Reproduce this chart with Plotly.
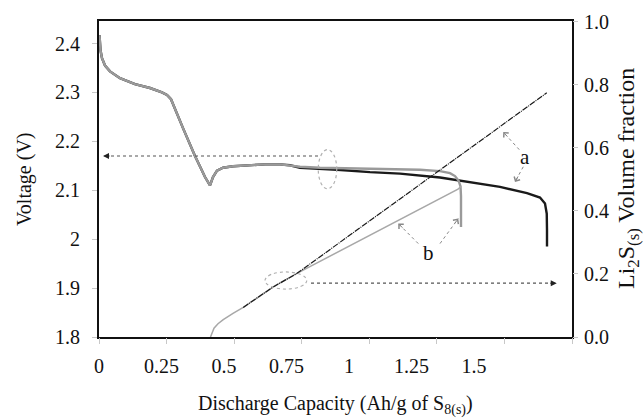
import plotly.graph_objects as go

# ---- discharge voltage profiles (Ah/g of S8, V) ----
cap_b = [0.002, 0.006, 0.012, 0.024, 0.044, 0.084, 0.144, 0.204, 0.252, 0.272, 0.288,
         0.308, 0.336, 0.384, 0.424, 0.444, 0.456, 0.472, 0.496, 0.536, 0.604, 0.664,
         0.724, 0.764, 0.804, 0.884, 0.964, 1.084, 1.204, 1.284, 1.364, 1.404, 1.424,
         1.438, 1.446, 1.448, 1.448]
volt_b = [2.417, 2.386, 2.370, 2.355, 2.343, 2.329, 2.317, 2.309, 2.300, 2.295, 2.286,
          2.260, 2.227, 2.170, 2.127, 2.110, 2.127, 2.140, 2.146, 2.149, 2.151, 2.153,
          2.153, 2.151, 2.148, 2.146, 2.145, 2.145, 2.143, 2.142, 2.139, 2.135, 2.129,
          2.120, 2.108, 2.088, 2.025]

cap_a = cap_b[:24] + [0.804, 0.884, 0.952, 1.084, 1.204, 1.364, 1.472, 1.604, 1.712,
                      1.764, 1.784, 1.791, 1.792, 1.792]
volt_a = volt_b[:24] + [2.146, 2.144, 2.142, 2.137, 2.134, 2.126, 2.117, 2.107, 2.094,
                        2.085, 2.073, 2.052, 2.018, 1.985]

# ---- Li2S(s) volume fraction profiles ----
cap_li_b = [0.446, 0.452, 0.460, 0.476, 0.497, 0.536, 0.577, 0.636, 0.697, 0.792, 0.884,
            0.984, 1.084, 1.184, 1.284, 1.364, 1.436, 1.448]
frac_li_b = [0.000, 0.015, 0.028, 0.042, 0.055, 0.075, 0.094, 0.126, 0.159, 0.202, 0.240,
             0.282, 0.323, 0.364, 0.405, 0.437, 0.469, 0.478]

cap_li_a = cap_li_b[6:10] + [1.791]
frac_li_a = frac_li_b[6:10] + [0.775]

# axis ticks
x_label_vals = [0, 0.25, 0.5, 0.75, 1, 1.25, 1.5]
x_tick_marks = [0, 0.25, 0.5, 0.75, 1, 1.25, 1.5, 1.75]
v_ticks = [1.8, 1.9, 2.0, 2.1, 2.2, 2.3, 2.4]
f_ticks = [0.0, 0.2, 0.4, 0.6, 0.8, 1.0]

FONT = "Liberation Serif"
GRAY = "#9a9a9a"
BLACK = "#1a1a1a"
ARROW = "#555555"
ELL = "#b0b0b0"

fig = go.Figure()

# Li2S fraction (right axis)
fig.add_trace(go.Scatter(x=cap_li_b, y=frac_li_b, mode="lines", yaxis="y2",
                         line=dict(color="#a8a8a8", width=1.5), showlegend=False,
                         hoverinfo="skip"))
fig.add_trace(go.Scatter(x=cap_li_a, y=frac_li_a, mode="lines", yaxis="y2",
                         line=dict(color=BLACK, width=1.2, dash="6px,1px,1px,1px"),
                         showlegend=False, hoverinfo="skip"))
# voltage (left axis)
fig.add_trace(go.Scatter(x=cap_a, y=volt_a, mode="lines",
                         line=dict(color=BLACK, width=2.4), showlegend=False,
                         hoverinfo="skip"))
fig.add_trace(go.Scatter(x=cap_b, y=volt_b, mode="lines",
                         line=dict(color=GRAY, width=2.4), showlegend=False,
                         hoverinfo="skip"))
# carrier for the tick-mark axis
fig.add_trace(go.Scatter(x=[0], y=[None], xaxis="x2", mode="lines",
                         showlegend=False, hoverinfo="skip"))

shapes = [
    # ellipses marking the curve groups
    dict(type="circle", xref="x", yref="y", x0=0.877, x1=0.951, y0=2.103, y1=2.183,
         line=dict(color=ELL, width=1.2, dash="dot")),
    dict(type="circle", xref="x", yref="y", x0=0.664, x1=0.831, y0=1.898, y1=1.933,
         line=dict(color=ELL, width=1.2, dash="dot")),
    # arrow shafts
    dict(type="line", xref="x", yref="y", x0=0.876, x1=0.02, y0=2.170, y1=2.170,
         line=dict(color=ARROW, width=1.2, dash="dot")),
    dict(type="line", xref="x", yref="y", x0=0.848, x1=1.826, y0=1.910, y1=1.910,
         line=dict(color=ARROW, width=1.2, dash="dot")),
    dict(type="line", xref="x", yref="y", x0=1.681, x1=1.617, y0=2.183, y1=2.219,
         line=dict(color="#888", width=1, dash="dot")),
    dict(type="line", xref="x", yref="y", x0=1.697, x1=1.664, y0=2.148, y1=2.117,
         line=dict(color="#888", width=1, dash="dot")),
    dict(type="line", xref="x", yref="y", x0=1.277, x1=1.197, y0=1.991, y1=2.032,
         line=dict(color="#888", width=1, dash="dot")),
    dict(type="line", xref="x", yref="y", x0=1.364, x1=1.437, y0=1.991, y1=2.042,
         line=dict(color="#888", width=1, dash="dot")),
]


def head(x, y, ax, ay, style, color, size=1.0):
    return dict(x=x, y=y, xref="x", yref="y", ax=ax, ay=ay, showarrow=True,
                arrowhead=style, arrowsize=size, arrowwidth=1, arrowcolor=color, text="")


annotations = [
    head(0.016, 2.170, 8, 0, 2, "#222", 1.2),
    head(1.831, 1.910, -8, 0, 2, "#222", 1.2),
    head(1.617, 2.219, 5.4, 5.9, 4, "#888", 1.3),
    head(1.664, 2.117, 3.9, -7, 4, "#888", 1.3),
    head(1.197, 2.032, 5.7, 5.7, 4, "#888", 1.3),
    head(1.437, 2.042, -4.7, 6.4, 4, "#888", 1.3),
    dict(x=1.704, y=2.168, xref="x", yref="y", text="a", showarrow=False,
         font=dict(family=FONT, size=21, color="#111")),
    dict(x=1.319, y=1.971, xref="x", yref="y", text="b", showarrow=False,
         font=dict(family=FONT, size=21, color="#111")),
    # axis titles
    dict(x=0, y=0.5, xref="paper", yref="paper", xshift=-75, textangle=-90,
         xanchor="center", yanchor="middle",
         text="Voltage (V)", showarrow=False, font=dict(family=FONT, size=20, color="#111")),
    dict(x=1, y=0.5, xref="paper", yref="paper", xshift=56, textangle=-90,
         xanchor="center", yanchor="middle",
         text="Li<sub>2</sub>S<sub>(s)</sub> Volume fraction", showarrow=False,
         font=dict(family=FONT, size=24, color="#111")),
    dict(x=0.5, y=0, xref="paper", yref="paper", yshift=-68,
         xanchor="center", yanchor="middle",
         text="Discharge Capacity (Ah/g of S<sub>8(s)</sub>)", showarrow=False,
         font=dict(family=FONT, size=20, color="#111")),
]

tickfont = dict(family=FONT, size=20, color="#111")

fig.update_layout(
    width=644, height=418,
    margin=dict(l=99, r=72, t=21, b=81),
    paper_bgcolor="white", plot_bgcolor="white",
    shapes=shapes, annotations=annotations,
    xaxis=dict(range=[0, 1.892], tickvals=x_label_vals, ticks="", showgrid=False,
               zeroline=False, showline=True, linecolor="#111", linewidth=2, mirror=True,
               tickfont=tickfont, ticklabelstandoff=10),
    xaxis2=dict(range=[0, 1.75], overlaying="x", anchor="y", side="bottom",
                tickvals=x_tick_marks, ticks="outside", ticklen=6, tickwidth=1,
                tickcolor="#c8c8c8", showticklabels=False, showgrid=False,
                zeroline=False, showline=False),
    yaxis=dict(range=[1.8, 2.446], tickvals=v_ticks, ticks="outside", ticklen=5,
               tickwidth=1, tickcolor="#c8c8c8", showgrid=False, zeroline=False,
               showline=True, linecolor="#111", linewidth=2, mirror=True,
               tickfont=tickfont, ticklabelstandoff=8),
    yaxis2=dict(range=[0, 1.003], tickvals=f_ticks, tickformat=".1f", overlaying="y",
                side="right", anchor="x", ticks="outside", ticklen=5, tickwidth=1,
                tickcolor="#c8c8c8", showgrid=False, zeroline=False, showline=False,
                tickfont=tickfont, ticklabelstandoff=2),
)

fig.write_html("out.html")
